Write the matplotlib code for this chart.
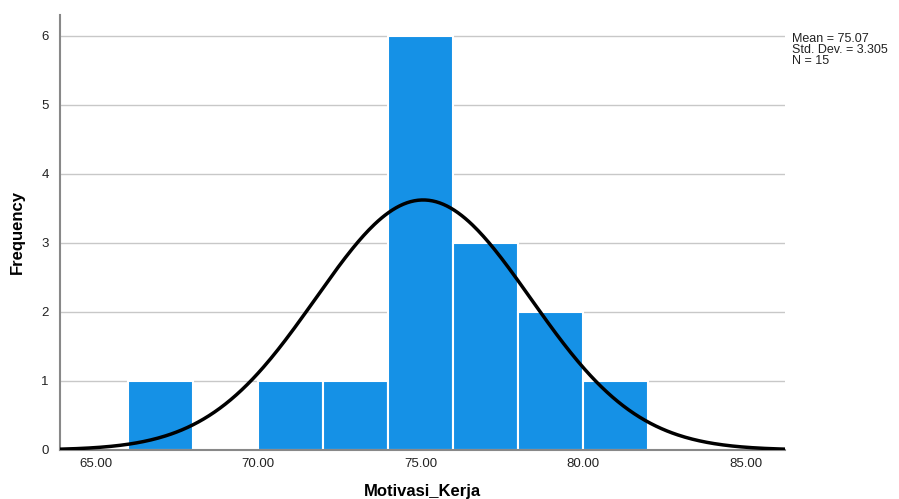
import numpy as np
import matplotlib
matplotlib.use("Agg")
import matplotlib.pyplot as plt

bin_edges = [66, 68, 70, 72, 74, 76, 78, 80, 82]
counts = [1, 0, 1, 1, 6, 3, 2, 1]
mean, sd, n = 75.07, 3.305, 15
xticks = [65, 70, 75, 80, 85]
yticks = [0, 1, 2, 3, 4, 5, 6]

plt.rcParams['font.family'] = ['Liberation Sans', 'DejaVu Sans']
fig = plt.figure(figsize=(8.99, 4.99), dpi=100)
ax = fig.add_axes([60/899, 49/499, 725/899, 435/499])

lefts = bin_edges[:-1]
widths = np.diff(bin_edges)
ax.bar(lefts, counts, width=widths, align='edge', color='#1591E6',
       edgecolor='white', linewidth=1.5, zorder=2)

xs = np.linspace(63.9, 86.2, 400)
bw = 2
ys = n * bw / (sd * np.sqrt(2 * np.pi)) * np.exp(-0.5 * ((xs - mean) / sd) ** 2)
ax.plot(xs, ys, color='black', linewidth=2.5, zorder=3, solid_capstyle='round')

ax.set_xlim(63.9, 86.2)
ax.set_ylim(0, 6.3)
ax.set_xticks(xticks)
ax.set_xticklabels([f"{v:.2f}" for v in xticks])
ax.set_yticks(yticks)
ax.grid(axis='y', color='#C8C8C8', linewidth=1, zorder=0)
ax.set_axisbelow(True)
for s in ['top', 'right']:
    ax.spines[s].set_visible(False)
for s in ['left', 'bottom']:
    ax.spines[s].set_color('#888888')
    ax.spines[s].set_linewidth(1.5)
ax.tick_params(length=0, labelsize=9.5, colors='#222222', pad=6)
ax.tick_params(axis='y', pad=8)

ax.set_xlabel('Motivasi_Kerja', fontsize=12, fontweight='bold', labelpad=10)
ax.set_ylabel('Frequency', fontsize=12, fontweight='bold', labelpad=12)

fig.text(792/899, 1 - 50/499, f"Mean = {mean:.2f}\nStd. Dev. = {sd:.3f}\nN = {n}",
         fontsize=9, va='center', ha='left', linespacing=0.9, color='#222222')

fig.savefig('out.png', dpi=100)
